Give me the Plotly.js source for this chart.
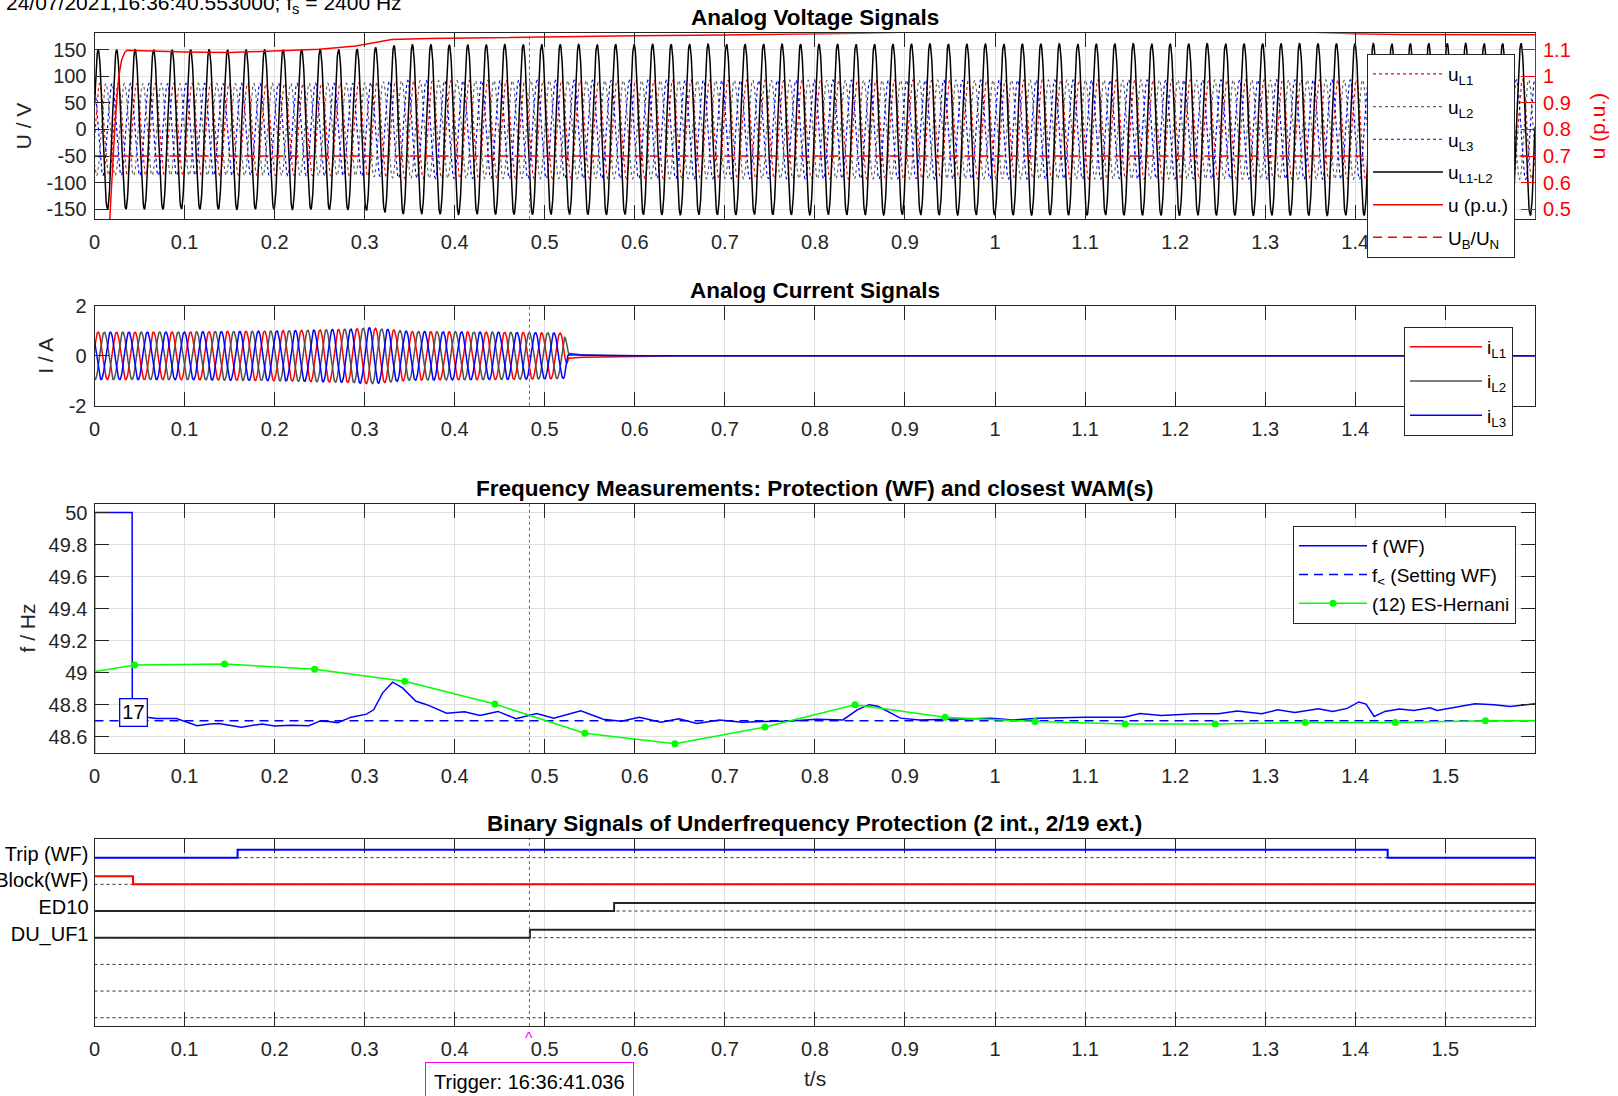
<!DOCTYPE html>
<html><head><meta charset="utf-8">
<script src="https://cdn.plot.ly/plotly-3.0.1.min.js"></script>
<style>html,body{margin:0;padding:0;background:#fff;} #chart{width:1618px;height:1096px;}</style>
</head><body><div id="chart"></div>
<script>
// ================= data =================
const headerText = '24/07/2021,16:36:40.553000; f<sub>s</sub> = 2400 Hz';
const sampleRate = 2400;          // f_s in Hz
const tMax = 1.5996;              // last sample time (s)
const triggerTime = 0.483;        // 16:36:41.036 - 16:36:40.553
const triggerLabel = 'Trigger: 16:36:41.036';

// --- Analog voltage signals ---
const uEnvT = [0, 0.20, 0.29, 0.31, 0.34, 0.50, 1.00, 1.60];     // s
const uEnvV = [150, 150, 151, 154, 159, 160, 161, 162];           // peak of u_L1-L2 (V)
const uLLPeakTime = 0.0041;                                       // first peak of u_L1-L2
const puT = [0, 0.0125, 0.0175, 0.020, 0.0225, 0.025, 0.027, 0.030, 0.0335, 0.036, 0.05, 0.10, 0.15, 0.20, 0.25, 0.29, 0.31, 0.33, 0.37, 0.41, 0.48, 0.60, 0.70, 0.80, 0.85, 0.90, 1.00, 1.20, 1.35, 1.40, 1.45, 1.5996];
const puV = [0, 0.10, 0.50, 0.66, 0.80, 0.92, 1.00, 1.06, 1.09, 1.098, 1.096, 1.091, 1.089, 1.095, 1.102, 1.114, 1.125, 1.138, 1.142, 1.144, 1.148, 1.152, 1.155, 1.159, 1.1617, 1.166, 1.168, 1.168, 1.166, 1.160, 1.157, 1.156];
const ubUn = 0.7;                                                 // U_B/U_N (p.u.)
const voltTicks = [-150, -100, -50, 0, 50, 100, 150];
const puTicks = [0.5, 0.6, 0.7, 0.8, 0.9, 1, 1.1];

// --- Analog current signals ---
const iEnvT = [0, 0.10, 0.20, 0.25, 0.29, 0.305, 0.32, 0.35, 0.45, 0.515, 0.522, 0.527];
const iEnvV = [0.95, 0.96, 1.00, 1.04, 1.08, 1.13, 1.08, 0.98, 0.95, 0.92, 0.90, 0];
const iL1PeakTime = 0.0040;
const iTailT  = [0.527, 0.535, 0.56, 0.60, 0.62];
const iTailL1 = [-0.10, -0.06, -0.05, -0.03, 0];
const iTailL2 = [0.10, 0.05, 0.02, 0.01, 0];
const iTailL3 = [0.05, 0.03, 0.01, 0, 0];
const currTicks = [-2, 0, 2];

// --- Frequency measurements ---
const fWFt = [0, 0.0002, 0.0418, 0.0420, 0.058, 0.069, 0.091, 0.101, 0.114, 0.128, 0.138, 0.163, 0.186, 0.200, 0.218, 0.238, 0.250, 0.260, 0.270, 0.285, 0.302, 0.310, 0.320, 0.331, 0.342, 0.357, 0.369, 0.391, 0.411, 0.428, 0.448, 0.468, 0.491, 0.510, 0.540, 0.565, 0.585, 0.605, 0.629, 0.649, 0.669, 0.694, 0.719, 0.743, 0.773, 0.802, 0.831, 0.847, 0.860, 0.870, 0.895, 0.916, 0.947, 0.995, 1.021, 1.048, 1.100, 1.143, 1.161, 1.185, 1.222, 1.248, 1.269, 1.296, 1.314, 1.333, 1.359, 1.375, 1.391, 1.404, 1.412, 1.421, 1.433, 1.449, 1.465, 1.483, 1.491, 1.512, 1.533, 1.554, 1.572, 1.5996];
const fWFv = [48.0, 50, 50, 48.735, 48.722, 48.714, 48.714, 48.695, 48.669, 48.68, 48.682, 48.659, 48.68, 48.667, 48.672, 48.669, 48.697, 48.695, 48.688, 48.722, 48.741, 48.768, 48.874, 48.941, 48.905, 48.821, 48.8, 48.747, 48.756, 48.733, 48.758, 48.712, 48.745, 48.716, 48.762, 48.709, 48.697, 48.722, 48.691, 48.712, 48.682, 48.705, 48.691, 48.695, 48.698, 48.709, 48.705, 48.768, 48.8, 48.79, 48.716, 48.705, 48.709, 48.716, 48.705, 48.716, 48.722, 48.722, 48.745, 48.733, 48.743, 48.743, 48.76, 48.743, 48.768, 48.752, 48.775, 48.758, 48.777, 48.817, 48.804, 48.726, 48.758, 48.773, 48.764, 48.781, 48.764, 48.785, 48.806, 48.8, 48.789, 48.806];
const fWFValidFrom = 0.043;
const fSetting = 48.7;
const wamT = [-0.0555, 0.0445, 0.1445, 0.2445, 0.3445, 0.4445, 0.5445, 0.6445, 0.7445, 0.8445, 0.9445, 1.0445, 1.1445, 1.2445, 1.3445, 1.4445, 1.5445, 1.6445];
const wamV = [48.953, 49.048, 49.054, 49.021, 48.947, 48.804, 48.621, 48.556, 48.66, 48.8, 48.722, 48.695, 48.68, 48.68, 48.688, 48.688, 48.699, 48.70];
const countLabel = '17';
const countT = 0.0434, countF = 48.754;
const freqTicks = [48.6, 48.8, 49, 49.2, 49.4, 49.6, 49.8, 50];

// --- Binary signals ---
const binNames = ['Trip (WF)', 'Block(WF)', 'ED10', 'DU_UF1', '', '', ''];
const tripT  = [0, 0.1589, 1.436, 1.5996];  const tripV  = [0, 1, 0, 0];
const blockT = [0, 0.0428, 1.5996];         const blockV = [1, 0, 0];
const ed10T  = [0, 0.577, 1.5996];          const ed10V  = [0, 1, 1];
const duT    = [0, 0.4835, 1.5996];         const duV    = [0, 1, 1];

// ================= helpers =================
const W = 1618, H = 1096;
const FONT = 'Liberation Sans, Arial, Helvetica, sans-serif';
const AX = '#262626';
function interp(xs, ys, x) {
  if (x <= xs[0]) return ys[0];
  if (x >= xs[xs.length - 1]) return ys[ys.length - 1];
  let i = 1; while (xs[i] < x) i++;
  const r = (x - xs[i - 1]) / (xs[i] - xs[i - 1]);
  return ys[i - 1] + r * (ys[i] - ys[i - 1]);
}
// sample grid and phase integrated from the measured frequency
const N = Math.round(tMax * sampleRate) + 1;
const t = [], phi = [];
let acc = 0;
for (let i = 0; i < N; i++) {
  const ti = i / sampleRate;
  t.push(ti); phi.push(acc);
  acc += 2 * Math.PI * interp(fWFt, fWFv, Math.max(ti, fWFValidFrom)) / sampleRate;
}
const phiU = interp(t, phi, uLLPeakTime);
const phiI = interp(t, phi, iL1PeakTime);
const uLL = [], uL1 = [], uL2 = [], uL3 = [], iL1 = [], iL2 = [], iL3 = [];
const k120 = 2 * Math.PI / 3, k30 = Math.PI / 6;
for (let i = 0; i < N; i++) {
  const A = interp(uEnvT, uEnvV, t[i]);
  const p = phi[i] - phiU;
  uLL.push(A * Math.cos(p));
  uL1.push(A / Math.sqrt(3) * Math.cos(p - k30));
  uL2.push(A / Math.sqrt(3) * Math.cos(p - k30 - k120));
  uL3.push(A / Math.sqrt(3) * Math.cos(p - k30 + k120));
  const I = interp(iEnvT, iEnvV, t[i]);
  const q = phi[i] - phiI;
  const tail = t[i] >= iTailT[0] && t[i] <= iTailT[iTailT.length - 1];
  iL1.push(I * Math.cos(q) + (tail ? interp(iTailT, iTailL1, t[i]) : 0));
  iL2.push(I * Math.cos(q - k120) + (tail ? interp(iTailT, iTailL2, t[i]) : 0));
  iL3.push(I * Math.cos(q + k120) + (tail ? interp(iTailT, iTailL3, t[i]) : 0));
}

// ================= geometry (pixels) =================
const plotL = 94.5, plotR = 1535;
const panels = { v: [33.3, 219.3], i: [306, 405.7], f: [504.3, 752.7], b: [839, 1026] };
const xd = [plotL / W, plotR / W];
const yd = p => [1 - p[1] / H, 1 - p[0] / H];
const px2y = py => 1 - py / H;
const px2x = pxv => pxv / W;

const voltRange = [-168.8, 180.8];
const v2pu = v => ubUn + (v + 50) / 500;
const puRange = voltRange.map(v2pu);
const binRange = [-(binNames.length - 1) - 0.31, 0.70];

const tickfont = { family: FONT, size: 20, color: AX };
const base = {
  showline: true, linecolor: AX, linewidth: 1, ticks: 'inside', ticklen: 14, tickwidth: 1,
  tickcolor: AX, gridcolor: '#dfdfdf', gridwidth: 1, zeroline: false, tickfont: tickfont,
  automargin: false, fixedrange: true
};
const xbase = Object.assign({}, base, { domain: xd, range: [0, tMax], tick0: 0, dtick: 0.1, mirror: 'ticks', showgrid: true, ticklabelstandoff: 5 });

// ================= traces =================
const traces = [];
const lw = 1.5;
function add(tr) { traces.push(Object.assign({ type: 'scatter', mode: 'lines', legendgroup: 'g' + traces.length }, tr)); }
add({ x: t, y: uL1, name: 'u<sub>L1</sub>', line: { color: '#ff0000', width: 1.2, dash: 'dot' }, xaxis: 'x', yaxis: 'y', legend: 'legend' });
add({ x: t, y: uL2, name: 'u<sub>L2</sub>', line: { color: '#666666', width: 1.2, dash: 'dot' }, xaxis: 'x', yaxis: 'y', legend: 'legend' });
add({ x: t, y: uL3, name: 'u<sub>L3</sub>', line: { color: '#0000ff', width: 1.2, dash: 'dot' }, xaxis: 'x', yaxis: 'y', legend: 'legend' });
add({ x: t, y: uLL, name: 'u<sub>L1-L2</sub>', line: { color: '#000000', width: lw }, xaxis: 'x', yaxis: 'y', legend: 'legend' });
add({ x: puT, y: puV, name: 'u (p.u.)', line: { color: '#ff0000', width: lw }, xaxis: 'x', yaxis: 'y5', legend: 'legend' });
add({ x: [0, tMax], y: [ubUn, ubUn], name: 'U<sub>B</sub>/U<sub>N</sub>', line: { color: '#ff0000', width: lw, dash: '9px,6px' }, xaxis: 'x', yaxis: 'y5', legend: 'legend' });

add({ x: t, y: iL1, name: 'i<sub>L1</sub>', line: { color: '#ff0000', width: lw }, xaxis: 'x2', yaxis: 'y2', legend: 'legend2' });
add({ x: t, y: iL2, name: 'i<sub>L2</sub>', line: { color: '#505050', width: lw }, xaxis: 'x2', yaxis: 'y2', legend: 'legend2' });
add({ x: t, y: iL3, name: 'i<sub>L3</sub>', line: { color: '#0000ff', width: lw }, xaxis: 'x2', yaxis: 'y2', legend: 'legend2' });

add({ x: fWFt, y: fWFv, name: 'f (WF)', line: { color: '#0000ff', width: lw }, xaxis: 'x3', yaxis: 'y3', legend: 'legend3' });
add({ x: [0, tMax], y: [fSetting, fSetting], name: 'f<sub>&lt;</sub> (Setting WF)', line: { color: '#0000ff', width: lw, dash: '9px,6px' }, xaxis: 'x3', yaxis: 'y3', legend: 'legend3' });
add({ x: wamT, y: wamV, mode: 'lines+markers', name: '(12) ES-Hernani', line: { color: '#00ff00', width: lw }, marker: { color: '#00ff00', size: 7 }, xaxis: 'x3', yaxis: 'y3', legend: 'legend3' });

// binary: dotted zero levels then signals
binNames.forEach((n, k) => {
  add({ x: [0, tMax], y: [-k, -k], showlegend: false, line: { color: '#333333', width: 1, dash: 'dot' }, xaxis: 'x4', yaxis: 'y4' });
});
const binSig = [[tripT, tripV, '#0000ff', 0], [blockT, blockV, '#ff0000', 1], [ed10T, ed10V, AX, 2], [duT, duV, AX, 3]];
binSig.forEach(([bx, bv, c, k]) => {
  add({ x: bx, y: bv.map(v => -k + 0.3 * v), showlegend: false, line: { color: c, width: 2, shape: 'hv' }, xaxis: 'x4', yaxis: 'y4' });
});

// ================= layout =================
const legBase = { bgcolor: '#ffffff', bordercolor: AX, borderwidth: 1, xanchor: 'left', yanchor: 'top', font: { family: FONT, size: 19, color: '#000' }, itemclick: false };
const layout = {
  width: W, height: H, margin: { l: 0, r: 0, t: 0, b: 0 }, paper_bgcolor: '#fff', plot_bgcolor: '#fff',
  showlegend: true, hovermode: false,
  legend: Object.assign({}, legBase, { x: px2x(1367), y: px2y(54), itemwidth: 70, tracegroupgap: 5 }),
  legend2: Object.assign({}, legBase, { x: px2x(1404), y: px2y(327), itemwidth: 72, tracegroupgap: 6.5 }),
  legend3: Object.assign({}, legBase, { x: px2x(1293), y: px2y(526), itemwidth: 68, tracegroupgap: 1 }),
  xaxis: Object.assign({}, xbase, { anchor: 'y' }),
  yaxis: Object.assign({}, base, { domain: yd(panels.v), anchor: 'x', range: voltRange, tickvals: voltTicks, ticktext: voltTicks.map(String), showgrid: true, ticklabelstandoff: 3 }),
  yaxis5: Object.assign({}, base, { overlaying: 'y', side: 'right', anchor: 'x', range: puRange, tickvals: puTicks, ticktext: puTicks.map(String), showgrid: false, linecolor: '#ff0000', tickcolor: '#ff0000', tickfont: { family: FONT, size: 20, color: '#ff0000' }, ticklabelstandoff: 3 }),
  xaxis2: Object.assign({}, xbase, { anchor: 'y2' }),
  yaxis2: Object.assign({}, base, { domain: yd(panels.i), anchor: 'x2', range: [-2, 2], tickvals: currTicks, ticktext: currTicks.map(String), mirror: 'ticks', showgrid: true, ticklabelstandoff: 3 }),
  xaxis3: Object.assign({}, xbase, { anchor: 'y3' }),
  yaxis3: Object.assign({}, base, { domain: yd(panels.f), anchor: 'x3', range: [48.5, 50.052], tickvals: freqTicks, ticktext: freqTicks.map(String), mirror: 'ticks', showgrid: true, ticklabelstandoff: 2 }),
  xaxis4: Object.assign({}, xbase, { anchor: 'y4' }),
  yaxis4: Object.assign({}, base, { domain: yd(panels.b), anchor: 'x4', range: binRange, ticks: '', mirror: true, showgrid: false,
    tickvals: binNames.map((n, k) => -k + 0.15), ticktext: binNames, tickfont: { family: FONT, size: 20, color: '#000' }, ticklabelstandoff: 1 }),
  shapes: [['x', 'y'], ['x2', 'y2'], ['x3', 'y3'], ['x4', 'y4']].map(([xa, ya]) => ({
    type: 'line', xref: xa, yref: ya + ' domain', x0: triggerTime, x1: triggerTime, y0: 0, y1: 1,
    line: { color: '#ff00ff', width: 1, dash: 'dot' }, layer: 'above'
  })),
  annotations: []
};
const ann = layout.annotations;
const titleFont = { family: FONT, size: 22.5, color: '#000', weight: 'bold' };
const titles = [['Analog Voltage Signals', panels.v], ['Analog Current Signals', panels.i],
  ['Frequency Measurements: Protection (WF) and closest WAM(s)', panels.f],
  ['Binary Signals of Underfrequency Protection (2 int., 2/19 ext.)', panels.b]];
titles.forEach(([txt, p]) => ann.push({ text: txt, xref: 'paper', yref: 'paper', x: (xd[0] + xd[1]) / 2, y: px2y(p[0] - 16), xanchor: 'center', yanchor: 'middle', showarrow: false, font: titleFont }));
const axTitleFont = { family: FONT, size: 21, color: AX };
ann.push({ text: 'U / V', xref: 'paper', yref: 'paper', x: px2x(23), y: px2y((panels.v[0] + panels.v[1]) / 2), textangle: -90, showarrow: false, font: axTitleFont, xanchor: 'center', yanchor: 'middle' });
ann.push({ text: 'u (p.u.)', xref: 'paper', yref: 'paper', x: px2x(1597), y: px2y((panels.v[0] + panels.v[1]) / 2), textangle: -90, showarrow: false, font: { family: FONT, size: 21, color: '#ff0000' }, xanchor: 'center', yanchor: 'middle' });
ann.push({ text: 'I / A', xref: 'paper', yref: 'paper', x: px2x(46), y: px2y((panels.i[0] + panels.i[1]) / 2), textangle: -90, showarrow: false, font: axTitleFont, xanchor: 'center', yanchor: 'middle' });
ann.push({ text: 'f / Hz', xref: 'paper', yref: 'paper', x: px2x(27), y: px2y((panels.f[0] + panels.f[1]) / 2), textangle: -90, showarrow: false, font: axTitleFont, xanchor: 'center', yanchor: 'middle' });
ann.push({ text: 't/s', xref: 'paper', yref: 'paper', x: px2x(815), y: px2y(1078), showarrow: false, font: axTitleFont, xanchor: 'center', yanchor: 'middle' });
ann.push({ text: headerText, xref: 'paper', yref: 'paper', x: px2x(4), y: px2y(4), xanchor: 'left', yanchor: 'middle', showarrow: false, font: { family: FONT, size: 21, color: '#000' } });
ann.push({ text: countLabel, xref: 'x3', yref: 'y3', x: countT, y: countF, showarrow: false, bgcolor: '#fff', bordercolor: '#0000ff', borderwidth: 1.3, borderpad: 2, font: { family: FONT, size: 20, color: '#000' } });
ann.push({ text: '^', xref: 'x4', yref: 'paper', x: triggerTime, y: px2y(1028), yanchor: 'top', showarrow: false, font: { family: FONT, size: 16, color: '#ff00ff' } });
ann.push({ text: triggerLabel, xref: 'x4', yref: 'paper', x: triggerTime, y: px2y(1062), yanchor: 'top', xanchor: 'center', showarrow: false, bgcolor: '#fff', bordercolor: '#ff00ff', borderwidth: 1, borderpad: 8, font: { family: FONT, size: 20, color: '#000' } });

Plotly.newPlot('chart', traces, layout, { staticPlot: true, displayModeBar: false });
</script></body></html>
